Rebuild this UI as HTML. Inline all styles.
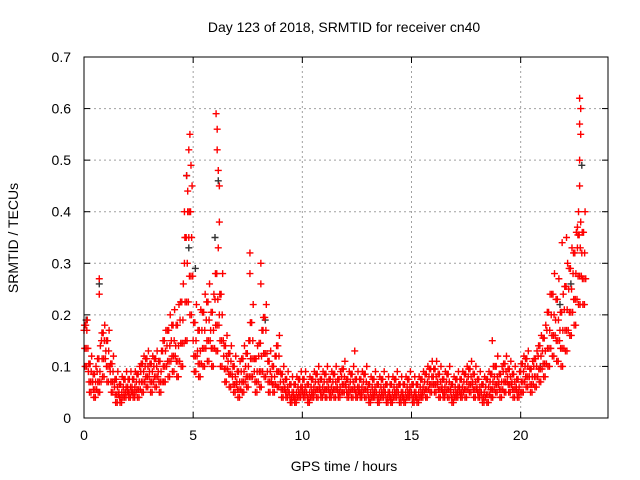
<!DOCTYPE html>
<html><head><meta charset="utf-8">
<style>
html,body{margin:0;padding:0;background:#fff;}
svg{display:block;font-family:"Liberation Sans",sans-serif;}
</style></head>
<body>
<svg id="chart" width="640" height="480" viewBox="0 0 640 480" xmlns="http://www.w3.org/2000/svg">
<rect width="640" height="480" fill="#fff"/>
<g id="grid"></g>
<g id="ticks"></g>
<g id="points"></g>
<rect x="84" y="57" width="524" height="361" fill="none" stroke="#000" stroke-width="1"/>
<text x="344" y="32" font-size="14" text-anchor="middle">Day 123 of 2018, SRMTID for receiver cn40</text>
<text x="344" y="471" font-size="14" text-anchor="middle">GPS time / hours</text>
<text x="18" y="238" font-size="14" text-anchor="middle" transform="rotate(-90 18 238)">SRMTID / TECUs</text>
</svg>
<script>
const xTicks=[0,5,10,15,20];
const yTicks=[0,0.1,0.2,0.3,0.4,0.5,0.6,0.7];
const yTickLabels=["0","0.1","0.2","0.3","0.4","0.5","0.6","0.7"];
const times=[0,0.2,0.4,0.6,0.8,1.0,1.2,1.4,1.6,1.8,2.0,2.2,2.4,2.6,2.8,3.0,3.2,3.4,3.6,3.8,4.0,4.2,4.4,4.6,4.8,5.0,5.2,5.4,5.6,5.8,6.0,6.2,6.4,6.6,6.8,7.0,7.2,7.4,7.6,7.8,8.0,8.2,8.4,8.6,8.8,9.0,9.2,9.4,9.6,9.8,10.0,10.2,10.4,10.6,10.8,11.0,11.2,11.4,11.6,11.8,12.0,12.2,12.4,12.6,12.8,13.0,13.2,13.4,13.6,13.8,14.0,14.2,14.4,14.6,14.8,15.0,15.2,15.4,15.6,15.8,16.0,16.2,16.4,16.6,16.8,17.0,17.2,17.4,17.6,17.8,18.0,18.2,18.4,18.6,18.8,19.0,19.2,19.4,19.6,19.8,20.0,20.2,20.4,20.6,20.8,21.0,21.2,21.4,21.6,21.8,22.0,22.2,22.4,22.6,22.8];
const midVals=[.17,.09,.07,.09,.15,.13,.09,.06,.05,.06,.06,.06,.07,.09,.10,.09,.10,.09,.13,.14,.15,.14,.19,.30,.35,.15,.13,.17,.19,.17,.23,.20,.12,.11,.08,.07,.09,.10,.15,.09,.12,.17,.09,.08,.12,.07,.06,.05,.05,.06,.06,.05,.06,.07,.06,.07,.06,.07,.06,.08,.06,.07,.06,.06,.07,.05,.06,.05,.06,.05,.05,.06,.05,.05,.06,.05,.05,.06,.07,.08,.08,.07,.06,.07,.05,.06,.06,.07,.08,.07,.06,.05,.06,.07,.08,.07,.09,.08,.07,.06,.09,.10,.08,.10,.12,.13,.17,.20,.19,.17,.21,.25,.28,.33,.32];
const loVals=[.10,.05,.04,.05,.08,.07,.05,.03,.03,.04,.04,.04,.04,.05,.06,.05,.06,.05,.07,.08,.09,.08,.10,.15,.20,.09,.08,.10,.11,.10,.13,.10,.07,.06,.05,.04,.05,.06,.08,.05,.06,.08,.05,.05,.06,.04,.04,.03,.03,.04,.04,.03,.04,.04,.04,.04,.04,.04,.04,.05,.04,.04,.04,.04,.04,.03,.04,.03,.04,.03,.03,.04,.03,.03,.04,.03,.03,.04,.04,.05,.05,.04,.04,.04,.03,.04,.04,.04,.05,.04,.04,.03,.03,.04,.05,.04,.05,.05,.04,.04,.05,.06,.05,.06,.07,.08,.10,.12,.11,.10,.13,.16,.18,.22,.22];
const hiVals=[.19,.12,.10,.14,.18,.17,.12,.09,.08,.09,.09,.09,.10,.12,.13,.12,.13,.13,.17,.20,.21,.22,.26,.40,.45,.22,.21,.24,.26,.24,.33,.28,.16,.14,.12,.11,.14,.15,.22,.14,.17,.22,.13,.12,.16,.10,.09,.08,.08,.09,.09,.08,.09,.10,.09,.10,.09,.10,.09,.11,.09,.10,.09,.09,.10,.08,.09,.08,.09,.08,.08,.09,.08,.08,.09,.08,.08,.09,.10,.11,.11,.10,.09,.10,.08,.09,.09,.10,.11,.10,.09,.08,.09,.10,.12,.10,.12,.11,.10,.09,.12,.13,.11,.13,.16,.18,.24,.28,.27,.24,.30,.33,.36,.38,.40];
const spikeTimes=[4.6,4.7,4.8,4.85,4.9,4.75,6.05,6.1,6.1,6.15,6.2,6.2,7.6,7.6,8.1,8.1,0.7,0.7,22.7,22.75,22.7,22.75,22.7,22.7,22.65,22.6,22.1,21.9,18.7,12.4];
const spikeVals=[.40,.47,.52,.55,.49,.44,.59,.56,.52,.48,.45,.38,.32,.28,.30,.26,.27,.24,.62,.60,.57,.55,.50,.45,.40,.37,.35,.34,.15,.13];
const greyTimes=[0.1,0.7,4.7,4.8,5.1,6.0,6.15,8.3,20.9,21.8,22.3,22.8];
const greyVals=[.19,.26,.47,.33,.29,.35,.46,.19,.10,.22,.26,.49];

const NS="http://www.w3.org/2000/svg";
const X0=84,X1=608,Y0=418,Y1=57;
function xs(t){return X0+(t/24)*(X1-X0);}
function ys(v){return Y0-(v/0.7)*(Y0-Y1);}
function mk(tag,attrs,parent){const e=document.createElementNS(NS,tag);for(const k in attrs)e.setAttribute(k,attrs[k]);parent.appendChild(e);return e;}
const grid=document.getElementById('grid'),ticks=document.getElementById('ticks'),pts=document.getElementById('points');
xTicks.forEach(t=>{const x=xs(t);
 if(t>0){const g=mk('line',{x1:x,y1:Y0,x2:x,y2:Y1,stroke:'#a0a0a0','stroke-dasharray':'2,3'},grid);
 
 }
 mk('line',{x1:x,y1:Y0,x2:x,y2:Y0-6,stroke:'#000'},ticks);
 mk('line',{x1:x,y1:Y1,x2:x,y2:Y1+6,stroke:'#000'},ticks);
 const l=mk('text',{x:x,y:Y0+22,'font-size':14,'text-anchor':'middle',fill:'#000'},ticks);l.textContent=t;
 
 
});
yTicks.forEach((v,i)=>{const y=ys(v);
 if(v>0&&v<0.7){const g=mk('line',{x1:X0,y1:y,x2:X1,y2:y,stroke:'#a0a0a0','stroke-dasharray':'2,3'},grid);
 
 }
 mk('line',{x1:X0,y1:y,x2:X0+6,y2:y,stroke:'#000'},ticks);
 mk('line',{x1:X1,y1:y,x2:X1-6,y2:y,stroke:'#000'},ticks);
 const l=mk('text',{x:X0-13,y:y+5,'font-size':14,'text-anchor':'end',fill:'#000'},ticks);l.textContent=yTickLabels[i];
 
 
});
function plus(t,v,col){const x=xs(t),y=ys(v);
 const p=mk('path',{d:`M${x-3.5},${y}h7M${x},${y-3.5}v7`,stroke:col,'stroke-width':1.4,fill:'none'},pts);
 
 }
greyTimes.forEach((t,i)=>plus(t,greyVals[i],'#333'));
times.forEach((t,i)=>{
 const lo=loVals[i],mi=midVals[i],hi=hiVals[i];
 plus(t,mi,'#f00');plus(t+0.1,(mi+lo)/2,'#f00');
 plus(t+0.05,lo,'#f00');plus(t+0.15,hi,'#f00');
 plus(t+0.08,(mi+hi)/2,'#f00');
 plus(t+0.03,(mi+lo)/2,'#f00');plus(t+0.13,mi,'#f00');
 plus(t+0.18,(mi+lo)/2,'#f00');plus(t+0.12,lo,'#f00');
 plus(t+0.02,(mi+hi)/2,'#f00');
});
spikeTimes.forEach((t,i)=>plus(t,spikeVals[i],'#f00'));
</script>
</body></html>
